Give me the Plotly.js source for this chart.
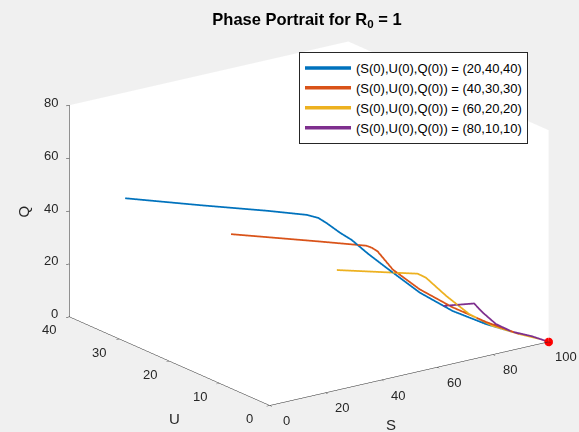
<!DOCTYPE html>
<html>
<head>
<meta charset="utf-8">
<script src="https://cdn.plot.ly/plotly-3.0.1.min.js"></script>
<style>html,body{margin:0;padding:0;background:#f0f0f0;}#chart{width:579px;height:432px;}</style>
</head>
<body>
<div id="chart"></div>
<script>
// Trajectories (S, U, Q)
const blueS = [20, 26.0, 31.0, 34.3, 36.1, 38.7, 43.5, 47.1, 53.9, 60.9, 73.2, 82.6, 89.7, 95.4, 98.5, 100];
const blueU = [40, 28.2, 17.7, 11.7, 10.4, 10.2, 10.2, 9.9, 10.4, 10.6, 10.8, 9.5, 6.8, 3.35, 0.8, 0];
const blueQ = [40, 45.8, 51.3, 54.0, 53.5, 51.1, 46.3, 43.0, 35.7, 28.5, 16.0, 7.9, 3.5, 1.25, 0.7, 0];

const redS = [40, 46.7, 50.3, 51.35, 53.2, 61.9, 71.7, 80.9, 88.8, 95.4, 98.5, 100];
const redU = [30, 15.9, 8.7, 8.2, 8.1, 9.9, 10.0, 8.6, 6.25, 3.35, 0.8, 0];
const redQ = [30, 37.4, 41.0, 40.4, 38.7, 28.2, 18.3, 10.5, 4.95, 1.25, 0.7, 0];

const yelS = [60, 62.9, 64.7, 66.8, 75.7, 84.7, 90.7, 95.4, 98.5, 100];
const yelU = [20, 11.7, 6.5, 6.0, 6.9, 7.3, 6.05, 3.35, 0.8, 0];
const yelQ = [20, 25.4, 28.8, 27.2, 17.4, 8.0, 3.25, 1.25, 0.7, 0];

const purS = [80, 80.1, 84.4, 90.1, 94.1, 96.9, 100];
const purU = [10, 3.8, 4.5, 5.0, 4.0, 1.6, 0];
const purQ = [10, 16.1, 11.1, 4.9, 1.9, 1.5, 0];

const eqS = [100], eqU = [0], eqQ = [0];

// Tick values
const sTicks = [0, 20, 40, 60, 80, 100];
const uTicks = [0, 10, 20, 30, 40];
const qTicks = [0, 20, 40, 60, 80];

const names = ['(S(0),U(0),Q(0)) = (20,40,40)', '(S(0),U(0),Q(0)) = (40,30,30)',
               '(S(0),U(0),Q(0)) = (60,20,20)', '(S(0),U(0),Q(0)) = (80,10,10)'];
const colors = ['#0072BD', '#D95319', '#EDB120', '#7E2F8E'];
const Ss = [blueS, redS, yelS, purS], Us = [blueU, redU, yelU, purU], Qs = [blueQ, redQ, yelQ, purQ];

const traces = Ss.map((s, i) => ({
  type: 'scatter3d', mode: 'lines', x: s, y: Us[i], z: Qs[i], name: names[i],
  line: {color: colors[i], width: 3.5}
}));
traces.push({type: 'scatter3d', mode: 'markers', x: eqS, y: eqU, z: eqQ, showlegend: false,
  marker: {color: '#ff0000', size: 5}});

const ax = (range, vals) => ({
  title: {text: ''},
  range: range, tickvals: vals, autorange: false,
  showticklabels: false,
  showgrid: false, zeroline: false, showline: true, linecolor: '#262626', linewidth: 1,
  ticks: 'outside', ticklen: 4, tickcolor: '#262626',
  showbackground: true, backgroundcolor: '#ffffff', showspikes: false
});

const tf = {size: 13, color: '#262626'};
const anns = [];
sTicks.forEach(v => anns.push({x: v, y: 0, z: 0, text: String(v), showarrow: false,
  xshift: 17, yshift: -15, font: tf}));
uTicks.forEach(v => anns.push({x: 0, y: v, z: 0, text: String(v), showarrow: false,
  xshift: -20, yshift: -13, font: tf}));
qTicks.forEach(v => anns.push({x: 0, y: 40, z: v, text: String(v), showarrow: false,
  xanchor: 'right', xshift: -9, yshift: 3, font: tf}));
const lf = {size: 15, color: '#262626'};
anns.push({x: 50, y: 0, z: 0, text: 'S', showarrow: false, xshift: -18, yshift: -51, font: lf});
anns.push({x: 0, y: 20, z: 0, text: 'U', showarrow: false, xshift: 5, yshift: -57, font: lf});
anns.push({x: 0, y: 40, z: 40, text: 'Q', showarrow: false, xshift: -46, yshift: 0, textangle: -90, font: lf});

const k = 1.647;
const layout = {
  width: 579, height: 432,
  paper_bgcolor: '#f0f0f0',
  font: {family: 'Liberation Sans, Arial, sans-serif', color: '#262626'},
  margin: {l: 0, r: 0, t: 0, b: 0},
  title: {text: '<b>Phase Portrait for R<sub>0</sub> = 1</b>', x: 307 / 579, xanchor: 'center',
          y: 1 - 19 / 432, yanchor: 'middle', font: {size: 16.5, color: '#000'}},
  showlegend: true,
  legend: {x: 299 / 579, y: 1 - 52 / 432, xanchor: 'left', yanchor: 'top', bgcolor: '#ffffff',
           bordercolor: '#262626', borderwidth: 1, font: {size: 13, color: '#000'}, itemwidth: 46},
  scene: {
    domain: {x: [0.0674, 1], y: [0, 0.965]},
    bgcolor: '#f0f0f0',
    xaxis: ax([0, 100], sTicks),
    yaxis: ax([0, 40], uTicks),
    zaxis: ax([0, 80], qTicks),
    aspectmode: 'manual',
    aspectratio: {x: k, y: k, z: 0.65 * k},
    annotations: anns,
    camera: {
      projection: {type: 'orthographic'},
      eye: {x: -0.553 * 2, y: -0.770 * 2, z: 0.318 * 2},
      center: {x: 0, y: 0, z: 0},
      up: {x: 0, y: 0, z: 1}
    }
  }
};

Plotly.newPlot('chart', traces, layout, {displayModeBar: false});
</script>
</body>
</html>
